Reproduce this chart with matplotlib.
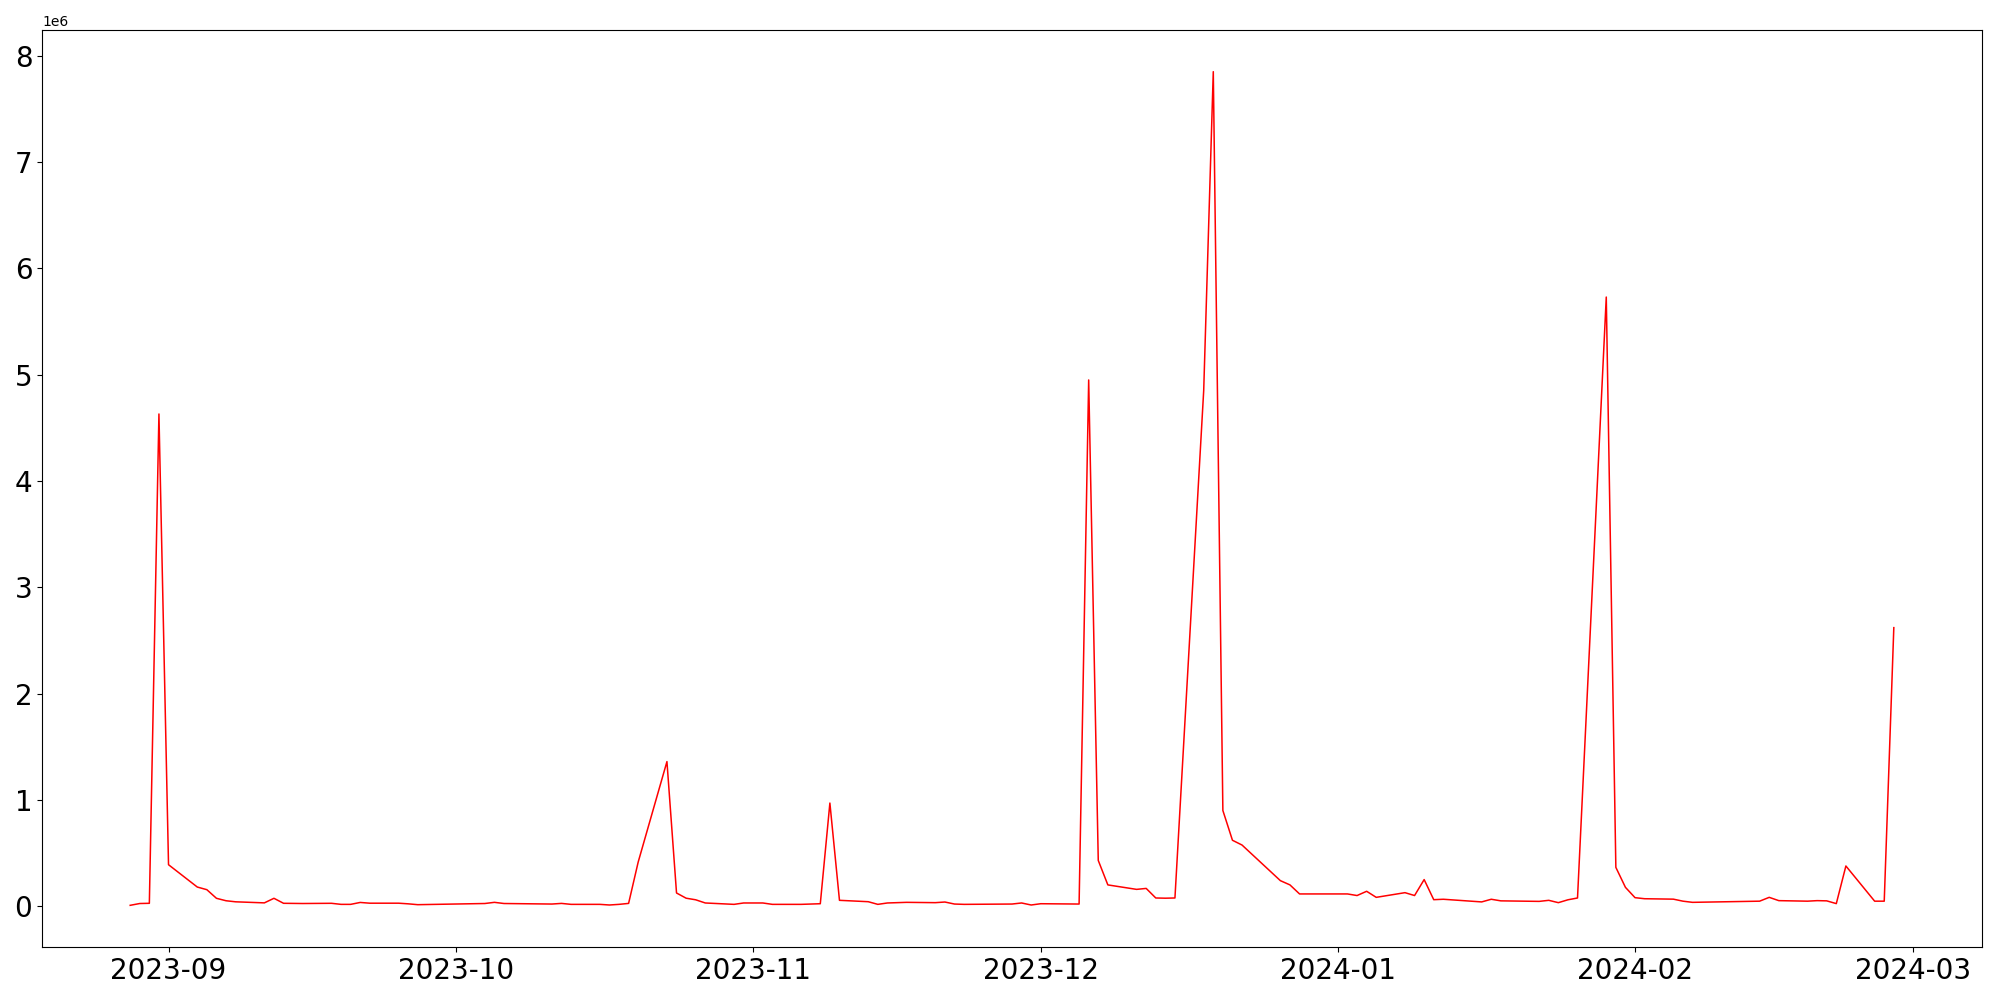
import matplotlib
matplotlib.use("Agg")
import matplotlib.pyplot as plt
import pandas as pd

dates = [
    "2023-08-28", "2023-08-29", "2023-08-30", "2023-08-31", "2023-09-01",
    "2023-09-04", "2023-09-05", "2023-09-06", "2023-09-07", "2023-09-08",
    "2023-09-11", "2023-09-12", "2023-09-13", "2023-09-15", "2023-09-18",
    "2023-09-19", "2023-09-20", "2023-09-21", "2023-09-22", "2023-09-25",
    "2023-09-26", "2023-09-27", "2023-10-04", "2023-10-05", "2023-10-06",
    "2023-10-11", "2023-10-12", "2023-10-13", "2023-10-16", "2023-10-17",
    "2023-10-18", "2023-10-19", "2023-10-20", "2023-10-23", "2023-10-24",
    "2023-10-25", "2023-10-26", "2023-10-27", "2023-10-30", "2023-10-31",
    "2023-11-02", "2023-11-03", "2023-11-06", "2023-11-08", "2023-11-09",
    "2023-11-10", "2023-11-13", "2023-11-14", "2023-11-15", "2023-11-17",
    "2023-11-20", "2023-11-21", "2023-11-22", "2023-11-23", "2023-11-28",
    "2023-11-29", "2023-11-30", "2023-12-01", "2023-12-05", "2023-12-06",
    "2023-12-07", "2023-12-08", "2023-12-11", "2023-12-12", "2023-12-13",
    "2023-12-14", "2023-12-15", "2023-12-18", "2023-12-19", "2023-12-20",
    "2023-12-21", "2023-12-22", "2023-12-26", "2023-12-27", "2023-12-28",
    "2024-01-02", "2024-01-03", "2024-01-04", "2024-01-05", "2024-01-08",
    "2024-01-09", "2024-01-10", "2024-01-11", "2024-01-12", "2024-01-16",
    "2024-01-17", "2024-01-18", "2024-01-22", "2024-01-23", "2024-01-24",
    "2024-01-25", "2024-01-26", "2024-01-29", "2024-01-30", "2024-01-31",
    "2024-02-01", "2024-02-02", "2024-02-05", "2024-02-06", "2024-02-07",
    "2024-02-14", "2024-02-15", "2024-02-16", "2024-02-19", "2024-02-20",
    "2024-02-21", "2024-02-22", "2024-02-23", "2024-02-26", "2024-02-27",
    "2024-02-28",
]

# values in millions
values_m = [
    0.008, 0.025, 0.027, 4.63, 0.39,
    0.18, 0.155, 0.074, 0.051, 0.041,
    0.031, 0.074, 0.027, 0.025, 0.027,
    0.017, 0.017, 0.035, 0.028, 0.028,
    0.022, 0.014, 0.025, 0.036, 0.025,
    0.020, 0.026, 0.017, 0.017, 0.011,
    0.017, 0.026, 0.415, 1.36, 0.124,
    0.075, 0.060, 0.030, 0.017, 0.030,
    0.030, 0.017, 0.017, 0.023, 0.97,
    0.055, 0.042, 0.017, 0.030, 0.036,
    0.033, 0.039, 0.020, 0.017, 0.020,
    0.030, 0.011, 0.023, 0.020, 4.95,
    0.43, 0.20, 0.158, 0.167, 0.077,
    0.075, 0.077, 4.85, 7.85, 0.90,
    0.62, 0.575, 0.24, 0.20, 0.115,
    0.115, 0.10, 0.14, 0.083, 0.127,
    0.10, 0.25, 0.061, 0.065, 0.040,
    0.065, 0.050, 0.045, 0.055, 0.033,
    0.060, 0.077, 5.73, 0.365, 0.177,
    0.080, 0.070, 0.066, 0.047, 0.036,
    0.047, 0.083, 0.052, 0.047, 0.052,
    0.050, 0.024, 0.378, 0.047, 0.047,
    2.62,
]

df = pd.DataFrame({"date": pd.to_datetime(dates), "value": [v * 1e6 for v in values_m]})

fig = plt.figure(figsize=(20, 10), dpi=100)
ax = fig.add_axes([0.021, 0.053, 0.970, 0.917])
ax.plot(df["date"], df["value"], color="red", linewidth=1.1)
ax.tick_params(axis="both", labelsize=20)

fig.savefig("out.png", dpi=100)
